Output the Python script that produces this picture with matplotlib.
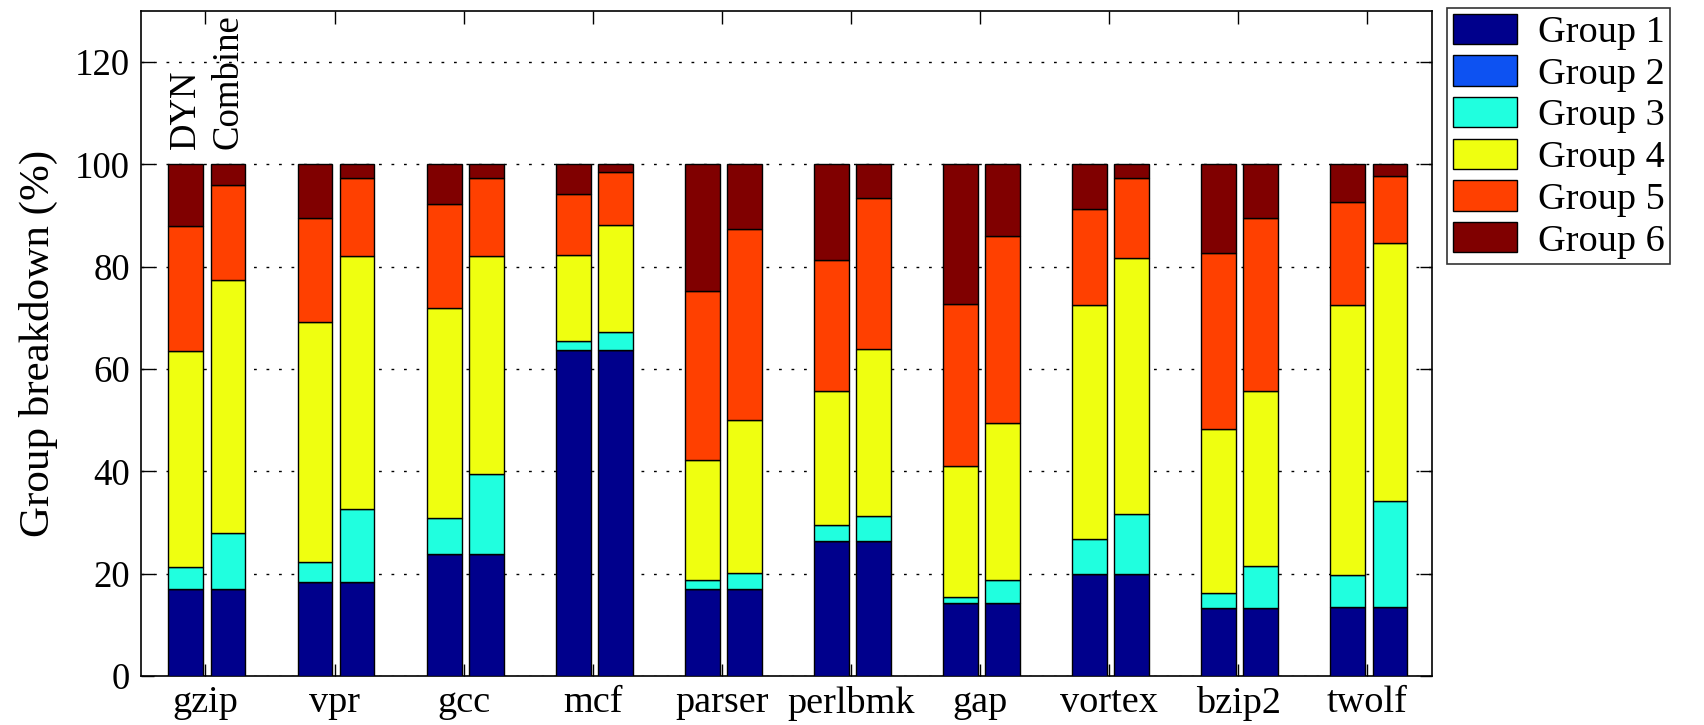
import matplotlib
matplotlib.use("Agg")
import matplotlib.pyplot as plt
import numpy as np

benchmarks = ["gzip", "vpr", "gcc", "mcf", "parser", "perlbmk", "gap", "vortex", "bzip2", "twolf"]
groups = ["Group 1", "Group 2", "Group 3", "Group 4", "Group 5", "Group 6"]
colors = ["#00008C", "#0D52F2", "#20FFDF", "#EFFF10", "#FF4000", "#800000"]

# cumulative tops of each group (Group1..Group5); Group6 tops out at 100
dyn_tops = {
    "gzip":    [17.1, 17.1, 21.4, 63.6, 88.0],
    "vpr":     [18.4, 18.4, 22.3, 69.3, 89.5],
    "gcc":     [23.9, 23.9, 30.9, 71.9, 92.2],
    "mcf":     [63.8, 63.8, 65.5, 82.4, 94.2],
    "parser":  [17.1, 17.1, 18.8, 42.2, 75.2],
    "perlbmk": [26.3, 26.3, 29.5, 55.8, 81.3],
    "gap":     [14.3, 14.3, 15.5, 41.1, 72.8],
    "vortex":  [19.9, 19.9, 26.7, 72.5, 91.3],
    "bzip2":   [13.2, 13.2, 16.3, 48.2, 82.7],
    "twolf":   [13.5, 13.5, 19.8, 72.5, 92.7],
}
comb_tops = {
    "gzip":    [17.1, 17.1, 28.0, 77.5, 95.9],
    "vpr":     [18.4, 18.4, 32.6, 82.1, 97.3],
    "gcc":     [23.9, 23.9, 39.5, 82.1, 97.3],
    "mcf":     [63.8, 63.8, 67.2, 88.1, 98.5],
    "parser":  [17.1, 17.1, 20.2, 50.0, 87.4],
    "perlbmk": [26.3, 26.3, 31.3, 64.0, 93.4],
    "gap":     [14.3, 14.3, 18.8, 49.5, 86.0],
    "vortex":  [19.9, 19.9, 31.7, 81.8, 97.3],
    "bzip2":   [13.2, 13.2, 21.6, 55.8, 89.5],
    "twolf":   [13.5, 13.5, 34.2, 84.7, 97.7],
}
yticks = [0, 20, 40, 60, 80, 100, 120]

plt.rcParams["font.family"] = ["Liberation Serif", "DejaVu Serif"]

fig = plt.figure(figsize=(17.04, 7.25), dpi=100)
ax = fig.add_axes([0.0827, 0.0676, 0.8404 - 0.0827, 0.9848 - 0.0676])

x = np.arange(1, len(benchmarks) + 1)
width = 0.27
offsets = [-0.152, 0.174]

def segs(tops):
    t = np.array(tops + [100.0])
    b = np.concatenate([[0.0], t[:-1]])
    return b, t - b

for off, data in zip(offsets, [dyn_tops, comb_tops]):
    mat = [segs(data[b]) for b in benchmarks]
    for gi in range(len(groups)):
        bottoms = [m[0][gi] for m in mat]
        heights = [m[1][gi] for m in mat]
        ax.bar(x + off, heights, width, bottom=bottoms, color=colors[gi],
               edgecolor="black", linewidth=1.0,
               label=groups[gi] if off == offsets[0] else None, zorder=3)

ax.set_xlim(0.5, 10.5)
ax.set_ylim(0, 130)
ax.set_yticks(yticks)
ax.set_xticks(x)
ax.set_xticklabels(benchmarks, fontsize=27.5)
ax.tick_params(axis="y", labelsize=26.5, direction="in", length=9, right=True, width=1, pad=8)
ax.tick_params(axis="x", direction="in", length=9, top=True, width=1, pad=7)
ax.set_ylabel("Group breakdown (%)", fontsize=31, labelpad=12)
ax.yaxis.grid(True, linestyle=(0, (2, 7)), color="black", linewidth=1.0)
ax.set_axisbelow(True)
for s in ax.spines.values():
    s.set_linewidth(1.2)

ax.text(1 + offsets[0], 103, "DYN", rotation=90, ha="center", va="bottom", fontsize=26.5)
ax.text(1 + offsets[1], 103, "Combine", rotation=90, ha="center", va="bottom", fontsize=26.5)

leg = fig.legend(loc="upper left", bbox_to_anchor=(1447 / 1704, 1 - 8 / 725),
                 borderaxespad=0, fontsize=27.5, frameon=True, fancybox=False,
                 edgecolor="black", handlelength=1.68, handleheight=0.84,
                 labelspacing=0.14, handletextpad=0.55, borderpad=0.15)
leg.get_frame().set_linewidth(1.2)

fig.savefig("out.png", dpi=100)
